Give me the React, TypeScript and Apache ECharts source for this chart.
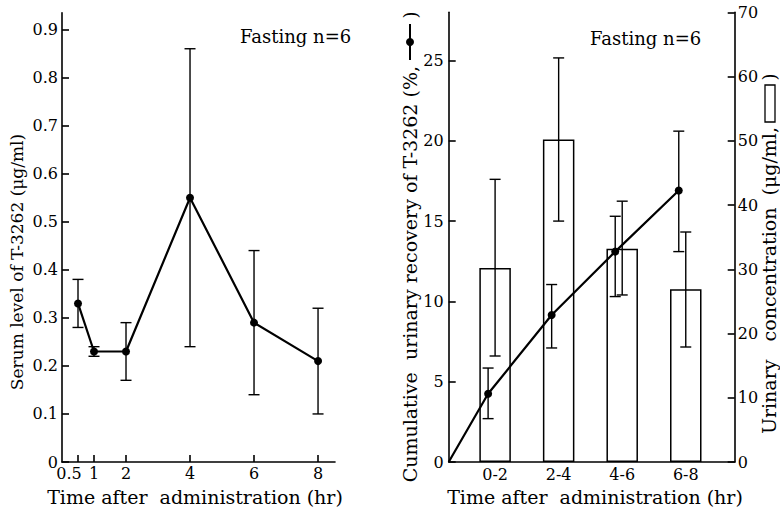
import React, { useEffect, useRef } from "react";
import * as echarts from "echarts";

// ---- Left panel: serum level ----
const serumTimes = [0.5, 1, 2, 4, 6, 8];
const serumMean = [0.33, 0.23, 0.23, 0.55, 0.29, 0.21];
const serumLow = [0.28, 0.22, 0.17, 0.24, 0.14, 0.1];
const serumHigh = [0.38, 0.24, 0.29, 0.86, 0.44, 0.32];
const serumYTicks = [0, 0.1, 0.2, 0.3, 0.4, 0.5, 0.6, 0.7, 0.8, 0.9];

// ---- Right panel: urinary ----
const intervals = ["0-2", "2-4", "4-6", "6-8"];
const intervalMid = [1, 3, 5, 7];
const recoveryMean = [4.25, 9.15, 13.1, 16.9];
const recoveryLow = [2.7, 7.1, 10.3, 13.1];
const recoveryHigh = [5.85, 11.05, 15.3, 20.6];
const concMean = [30.2, 50.2, 33.2, 26.9];
const concLow = [16.5, 37.5, 26.0, 17.9];
const concHigh = [44.0, 62.9, 40.6, 35.8];
const recoveryTicks = [0, 5, 10, 15, 20, 25];
const concTicks = [0, 10, 20, 30, 40, 50, 60, 70];

const FONT = "DejaVu Serif";
const BAR_OFFSET = 0.46;
const LINE_OFFSET = 0.24;

const errRender = (capHalf: number, lw: number) => (params: any, api: any) => {
  const x = api.value(0);
  const lo = api.value(1);
  const hi = api.value(2);
  const pLo = api.coord([x, lo]);
  const pHi = api.coord([x, hi]);
  const style = { stroke: "#000", lineWidth: lw, fill: "none" };
  return {
    type: "group",
    children: [
      { type: "line", shape: { x1: pLo[0], y1: pLo[1], x2: pHi[0], y2: pHi[1] }, style },
      { type: "line", shape: { x1: pLo[0] - capHalf, y1: pLo[1], x2: pLo[0] + capHalf, y2: pLo[1] }, style },
      { type: "line", shape: { x1: pHi[0] - capHalf, y1: pHi[1], x2: pHi[0] + capHalf, y2: pHi[1] }, style },
    ],
  };
};

const axisLineStyle = { color: "#000", width: 1.6 };
const labelBase = { color: "#000", fontFamily: FONT, fontSize: 16 };

const txt = (
  text: string,
  x: number,
  y: number,
  fontSize: number,
  rotation = 0,
  align = "center"
) => ({
  type: "text",
  x,
  y,
  rotation,
  style: {
    text,
    fill: "#000",
    fontFamily: FONT,
    fontSize,
    align,
    textAlign: align,
    verticalAlign: "middle",
    textVerticalAlign: "middle",
  },
});

export default function App() {
  const ref = useRef<HTMLDivElement>(null);
  useEffect(() => {
    if (!ref.current) return;
    const chart = echarts.init(ref.current, undefined, { renderer: "svg" });
    const barX = intervalMid.map((m) => m + BAR_OFFSET);
    const lineX = intervalMid.map((m) => m + LINE_OFFSET);
    const option: any = {
      animation: false,
      textStyle: { fontFamily: FONT, color: "#000" },
      grid: [
        { left: 62, top: 12.7, width: 273, height: 449.3 },
        { left: 448.7, top: 12.3, width: 286, height: 449.7 },
      ],
      xAxis: [
        {
          gridIndex: 0,
          type: "value",
          min: 0,
          max: 8.53,
          axisLine: { lineStyle: axisLineStyle },
          axisTick: { inside: true, length: 7, customValues: serumTimes, lineStyle: axisLineStyle },
          axisLabel: {
            ...labelBase,
            customValues: serumTimes,
            showMinLabel: true,
            showMaxLabel: true,
            margin: 3,
            formatter: (v: number) => (v === 0.5 ? "{s|0.5}" : String(v)),
            rich: { s: { ...labelBase, padding: [0, 18, 0, 0] } },
          },
          splitLine: { show: false },
        },
        {
          gridIndex: 1,
          type: "value",
          min: 0,
          max: 9,
          axisLine: { lineStyle: axisLineStyle },
          axisTick: { show: false },
          axisLabel: {
            ...labelBase,
            customValues: barX,
            showMinLabel: true,
            showMaxLabel: true,
            margin: 4,
            formatter: (v: number) => {
              const i = barX.findIndex((b) => Math.abs(b - v) < 1e-6);
              return i >= 0 ? intervals[i] : "";
            },
          },
          splitLine: { show: false },
        },
      ],
      yAxis: [
        {
          gridIndex: 0,
          type: "value",
          min: 0,
          max: 0.935,
          axisLine: { show: true, onZero: false, lineStyle: axisLineStyle },
          axisTick: { show: true, inside: true, length: 7, customValues: serumYTicks, lineStyle: axisLineStyle },
          axisLabel: {
            ...labelBase,
            customValues: serumYTicks,
            showMinLabel: true,
            margin: 4,
            formatter: (v: number) => (v === 0 ? "0" : v.toFixed(1)),
          },
          splitLine: { show: false },
        },
        {
          gridIndex: 1,
          type: "value",
          min: 0,
          max: 28,
          axisLine: { show: true, onZero: false, lineStyle: axisLineStyle },
          axisTick: { show: true, inside: true, length: 7, customValues: recoveryTicks, lineStyle: axisLineStyle },
          axisLabel: { ...labelBase, customValues: recoveryTicks, showMinLabel: true, margin: 5 },
          splitLine: { show: false },
        },
        {
          gridIndex: 1,
          type: "value",
          position: "right",
          min: 0,
          max: 70,
          axisLine: { show: true, onZero: false, lineStyle: axisLineStyle },
          axisTick: { show: true, inside: true, length: 7, customValues: concTicks, lineStyle: axisLineStyle },
          axisLabel: { ...labelBase, customValues: concTicks, showMinLabel: true, showMaxLabel: true, margin: 3 },
          splitLine: { show: false },
        },
      ],
      series: [
        {
          type: "custom",
          xAxisIndex: 0,
          yAxisIndex: 0,
          renderItem: errRender(5.5, 1.4),
          data: serumTimes.map((t, i) => [t, serumLow[i], serumHigh[i]]),
          z: 2,
        },
        {
          type: "line",
          xAxisIndex: 0,
          yAxisIndex: 0,
          data: serumTimes.map((t, i) => [t, serumMean[i]]),
          symbol: "circle",
          symbolSize: 8,
          itemStyle: { color: "#000" },
          lineStyle: { color: "#000", width: 2.2 },
          z: 3,
        },
        {
          type: "bar",
          xAxisIndex: 1,
          yAxisIndex: 2,
          data: barX.map((x, i) => [x, concMean[i]]),
          barWidth: 31.5,
          itemStyle: { color: "#fff", borderColor: "#000", borderWidth: 1.5 },
          z: 1,
        },
        {
          type: "custom",
          xAxisIndex: 1,
          yAxisIndex: 2,
          renderItem: errRender(5.5, 1.4),
          data: barX.map((x, i) => [x, concLow[i], concHigh[i]]),
          z: 2,
        },
        {
          type: "line",
          xAxisIndex: 1,
          yAxisIndex: 1,
          data: [
            { value: [0, 0], symbol: "none" },
            ...lineX.map((x, i) => [x, recoveryMean[i]]),
          ],
          symbol: "circle",
          symbolSize: 8,
          itemStyle: { color: "#000" },
          lineStyle: { color: "#000", width: 2.2 },
          z: 4,
        },
        {
          type: "custom",
          xAxisIndex: 1,
          yAxisIndex: 1,
          renderItem: errRender(5.5, 1.4),
          data: lineX.map((x, i) => [x, recoveryLow[i], recoveryHigh[i]]),
          z: 3,
        },
      ],
      graphic: [
        txt("Serum level of T-3262 (μg/ml)", 17, 262, 17, Math.PI / 2),
        txt("Time after  administration (hr)", 195, 497, 19),
        txt("Fasting n=6", 240, 36, 18, 0, "left"),
        txt("Fasting n=6", 590, 38, 18, 0, "left"),
        txt("Time after  administration (hr)", 595, 497, 19),
        txt("Cumulative  urinary recovery of T-3262 (%,", 410, 66, 19, Math.PI / 2, "right"),
        { type: "line", shape: { x1: 410, y1: 24, x2: 410, y2: 60 }, style: { stroke: "#000", lineWidth: 2 } },
        { type: "circle", shape: { cx: 410, cy: 42, r: 4 }, style: { fill: "#000" } },
        txt(")", 410, 15, 18, Math.PI / 2),
        txt("Urinary   concentration  (μg/ml,", 769, 127, 19, Math.PI / 2, "right"),
        { type: "rect", shape: { x: 765, y: 85, width: 10, height: 37 }, style: { fill: "#fff", stroke: "#000", lineWidth: 1.3 } },
        txt(")", 769, 77, 18, Math.PI / 2),
      ],
    };
    chart.setOption(option);
    return () => chart.dispose();
  }, []);
  return (
    <div
      ref={ref}
      style={{ position: "absolute", left: 0, top: 0, width: 780, height: 510, background: "#fff" }}
    />
  );
}
